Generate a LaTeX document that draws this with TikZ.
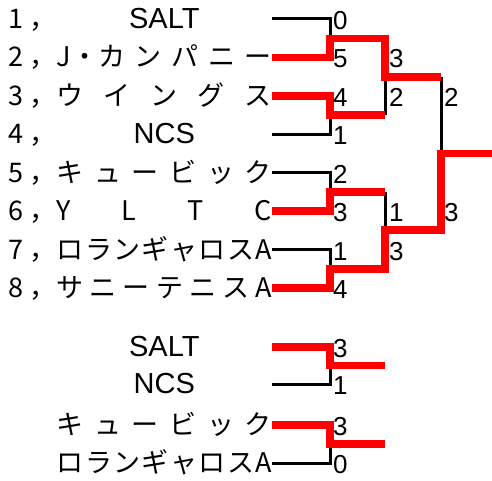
\documentclass[tikz,border=0pt]{standalone}
\usepackage{fontspec}
\setmainfont{Liberation Sans}
\newfontfamily\jpfont{Noto Sans CJK JP}
\newcommand\spreadname[1]{\makebox[215pt][s]{#1}}
\newcommand\midname[1]{\makebox[215pt]{\rmfamily\fontsize{29}{29}\selectfont #1}}

\begin{document}
\begin{tikzpicture}[x=1pt,y=-1pt,
  teambox/.style={anchor=east,inner sep=0pt,text height=19pt,text depth=0pt,font=\jpfont\fontsize{27}{27}\selectfont},
  seed/.style={anchor=west,inner sep=0pt,text height=19pt,text depth=0pt,font=\jpfont\fontsize{27}{27}\selectfont},
  score/.style={anchor=west,inner sep=0pt,text height=21pt,text depth=0pt,font=\fontsize{26}{26}\selectfont},
  lose/.style={line width=3pt},
  win/.style={line width=7.5pt,red}]
\useasboundingbox (0,0) rectangle (492,481);
% draw
\node[seed] (n1) at (8,19) {1\hspace{6pt}，};
\node[seed] (n2) at (8,57.5) {2\hspace{6pt}，};
\node[seed] (n3) at (8,96) {3\hspace{6pt}，};
\node[seed] (n4) at (8,134.5) {4\hspace{6pt}，};
\node[seed] (n5) at (8,173) {5\hspace{6pt}，};
\node[seed] (n6) at (8,211) {6\hspace{6pt}，};
\node[seed] (n7) at (8,249.5) {7\hspace{6pt}，};
\node[seed] (n8) at (8,288) {8\hspace{6pt}，};
\node[teambox] (t1) at (272,19) {\midname{SALT}};
\node[teambox] (t2) at (272,57.5) {\spreadname{J・カ\hfill ン\hfill パ\hfill ニ\hfill ー}};
\node[teambox] (t3) at (272,96) {\spreadname{ウ\hfill イ\hfill ン\hfill グ\hfill ス}};
\node[teambox] (t4) at (272,134.5) {\midname{NCS}};
\node[teambox] (t5) at (272,173) {\spreadname{キ\hfill ュ\hfill ー\hfill ビ\hfill ッ\hfill ク}};
\node[teambox] (t6) at (272,211) {\spreadname{Y\hfill L\hfill T\hfill C}};
\node[teambox] (t7) at (272,249.5) {\spreadname{ロ\hfill ラ\hfill ン\hfill ギ\hfill ャ\hfill ロ\hfill ス\hfill A}};
\node[teambox] (t8) at (272,288) {\spreadname{サ\hfill ニ\hfill ー\hfill テ\hfill ニ\hfill ス\hfill A}};
\node[teambox] (b1) at (272,347) {\midname{SALT}};
\node[teambox] (b2) at (272,384) {\midname{NCS}};
\node[teambox] (b3) at (272,425) {\spreadname{キ\hfill ュ\hfill ー\hfill ビ\hfill ッ\hfill ク}};
\node[teambox] (b4) at (272,463) {\spreadname{ロ\hfill ラ\hfill ン\hfill ギ\hfill ャ\hfill ロ\hfill ス\hfill A}};
\coordinate (q1) at (330,38.5);
\coordinate (q2) at (330,115);
\coordinate (q3) at (330,192);
\coordinate (q4) at (330,269);
\coordinate (s1) at (385,77);
\coordinate (s2) at (385,230);
\coordinate (f) at (441,153.5);
\coordinate (champ) at (492,153.5);
\coordinate (q5) at (330,365.5);
\coordinate (q6) at (330,444);
\coordinate (e5) at (385,365.5);
\coordinate (e6) at (385,444);
\draw[lose] (t1.east) -| (q1);
\draw[lose] (t4.east) -| (q2);
\draw[lose] (q2 -| s1) -- (s1);
\draw[lose] (t5.east) -| (q3);
\draw[lose] (t7.east) -| (q4);
\draw[lose] (q3 -| s2) -- (s2);
\draw[lose] (s1 -| f) -- (f);
\draw[lose] (b2.east) -| (q5);
\draw[lose] (b4.east) -| (q6);
\draw[win] (t2.east) -| (q1) -- (q1 -| s1) -- (s1) -- (s1 -| f);
\draw[win] (t3.east) -| (q2) -- (q2 -| s1);
\draw[win] (t6.east) -| (q3) -- (q3 -| s2);
\draw[win] (t8.east) -| (q4) -- (q4 -| s2) -- (s2) -- (s2 -| f) -- (f) -- (champ);
\draw[win] (b1.east) -| (q5) -- (e5);
\draw[win] (b3.east) -| (q6) -- (e6);
% scores
\node[score] at (333,19) {0};
\node[score] at (333,57.5) {5};
\node[score] at (333,96) {4};
\node[score] at (333,134.5) {1};
\node[score] at (333,173) {2};
\node[score] at (333,211) {3};
\node[score] at (333,249.5) {1};
\node[score] at (333,288) {4};
\node[score] at (389,57.5) {3};
\node[score] at (389,96) {2};
\node[score] at (389,211) {1};
\node[score] at (389,249.5) {3};
\node[score] at (444,96) {2};
\node[score] at (444,211) {3};
\node[score] at (333,347) {3};
\node[score] at (333,384) {1};
\node[score] at (333,425) {3};
\node[score] at (333,463) {0};
\end{tikzpicture}
\end{document}
